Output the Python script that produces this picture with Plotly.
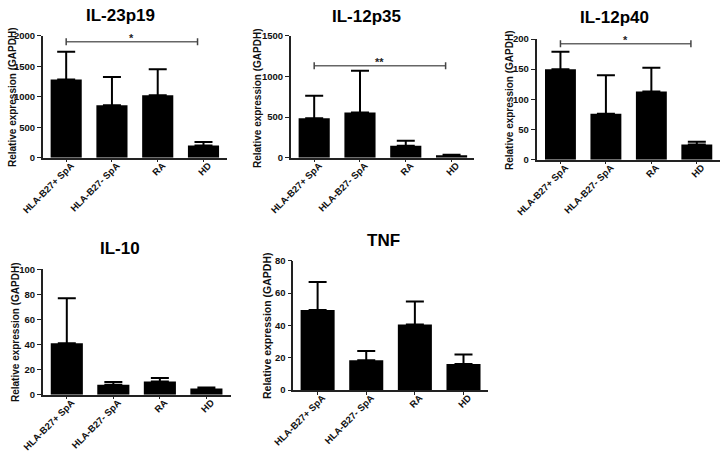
import plotly.graph_objects as go

W, H = 724, 458

groups = ["HLA-B27+ SpA", "HLA-B27- SpA", "RA", "HD"]

# mean values and top of upper error bar (mean + SD/SEM)
il23p19_mean = [1284, 858, 1022, 202]
il23p19_top = [1738, 1322, 1448, 257]
il12p35_mean = [484, 557, 148, 29]
il12p35_top = [762, 1070, 209, 37]
il12p40_mean = [150, 76, 113, 25]
il12p40_top = [179, 140, 152.5, 29.8]
il10_mean = [41, 8.0, 10.6, 4.9]
il10_top = [76.9, 10.1, 13.3, 5.7]
tnf_mean = [49.5, 18.4, 40.6, 16.1]
tnf_top = [66.8, 24.1, 54.8, 21.9]

titles = ["IL-23p19", "IL-12p35", "IL-12p40", "IL-10", "TNF"]
y_max = [2000, 1500, 200, 100, 80]
y_step = [500, 500, 50, 20, 20]

# significance brackets: (panel index, group from, group to, y level, label)
sig_panel = [0, 1, 2]
sig_from = [0, 0, 0]
sig_to = [3, 3, 3]
sig_level = [1900, 1130, 192]
sig_label = ["*", "**", "*"]

means = [il23p19_mean, il12p35_mean, il12p40_mean, il10_mean, tnf_mean]
tops = [il23p19_top, il12p35_top, il12p40_top, il10_top, tnf_top]

# layout in pixels: (axis left, axis right, axis top, axis bottom)
px_box = [
    (42.7, 226.7, 35.7, 157.7),
    (290.7, 474.0, 35.7, 157.7),
    (536.5, 720.0, 39.0, 159.7),
    (42.7, 230.6, 269.3, 394.7),
    (293.3, 488.3, 260.7, 390.0),
]
x_ranges = [(-0.513, 3.507), (-0.513, 3.49), (-0.527, 3.51), (-0.518, 3.52), (-0.50, 3.51)]
bar_w = [0.68, 0.68, 0.68, 0.69, 0.70]
title_pos = [(120.5, 15), (367, 16.5), (614, 17.5), (120, 248), (383, 240)]
ylab_pos = [(12, 97, 10), (258, 98, 10), (509, 100, 10), (15, 332, 10), (267, 326, 10.5)]
bracket_inset = 0.13

FONT = "Arial, Liberation Sans, sans-serif"

fig = go.Figure()
layout = dict(
    width=W, height=H, margin=dict(l=0, r=0, t=0, b=0, autoexpand=False),
    paper_bgcolor="white", plot_bgcolor="white", showlegend=False,
    font=dict(family=FONT, color="#111"),
)
annotations = []
shapes = []

for i in range(5):
    xn = "x" if i == 0 else f"x{i+1}"
    yn = "y" if i == 0 else f"y{i+1}"
    xl = "xaxis" if i == 0 else f"xaxis{i+1}"
    yl = "yaxis" if i == 0 else f"yaxis{i+1}"
    m = means[i]
    t = tops[i]
    fig.add_trace(go.Bar(
        x=list(range(4)), y=m, width=bar_w[i],
        marker=dict(color="black", line=dict(width=0)),
        error_y=dict(type="data", symmetric=False,
                     array=[a - b for a, b in zip(t, m)],
                     arrayminus=[0] * 4, color="black", thickness=2, width=9),
        xaxis=xn, yaxis=yn,
    ))
    L, R, T, B = px_box[i]
    layout[xl] = dict(
        domain=[L / W, R / W], range=list(x_ranges[i]), anchor=yn,
        tickmode="array", tickvals=list(range(4)), ticktext=groups,
        tickangle=-45, showline=True, linecolor="#222", linewidth=1.5,
        ticks="outside", ticklen=3, tickwidth=1, tickcolor="#222",
        showgrid=False, zeroline=False, automargin=False,
        ticklabelstandoff=-6, ticklabelshift=5,
        tickfont=dict(family=FONT, size=9.5, color="#111", weight="bold"),
    )
    layout[yl] = dict(
        domain=[1 - B / H, 1 - T / H], range=[0, y_max[i]], anchor=xn,
        dtick=y_step[i], tick0=0, showline=True, linecolor="#222", linewidth=1.5,
        ticks="outside", ticklen=4, tickwidth=1.2, tickcolor="#222",
        showgrid=False, zeroline=False, automargin=False,
        tickfont=dict(family=FONT, size=9.5, color="#111", weight="bold"),
    )
    tx, ty = title_pos[i]
    annotations.append(dict(
        text=titles[i], xref="paper", yref="paper", x=tx / W, y=1 - ty / H,
        xanchor="center", yanchor="middle", showarrow=False,
        font=dict(family=FONT, size=17, color="black", weight="bold"),
    ))
    lx, ly, ls = ylab_pos[i]
    annotations.append(dict(
        text="Relative expression (GAPDH)", xref="paper", yref="paper",
        x=lx / W, y=1 - ly / H, xanchor="center", yanchor="middle",
        textangle=-90, showarrow=False,
        font=dict(family=FONT, size=ls, color="#111", weight="bold"),
    ))

for k in range(len(sig_panel)):
    i = sig_panel[k]
    xn = "x" if i == 0 else f"x{i+1}"
    yn = "y" if i == 0 else f"y{i+1}"
    x0 = sig_from[k]
    x1 = sig_to[k] - bracket_inset
    yv = sig_level[k]
    shapes.append(dict(type="line", xref=xn, yref=yn, x0=x0, x1=x1, y0=yv, y1=yv,
                       line=dict(color="#666", width=1.5)))
    for xe in (x0, x1):
        shapes.append(dict(type="line", xref=xn, yref=yn, x0=xe, x1=xe,
                           ysizemode="pixel", yanchor=yv, y0=-3.5, y1=3.5,
                           line=dict(color="#444", width=1.5)))
    annotations.append(dict(
        text=sig_label[k], xref=xn, yref=yn, x=(x0 + x1) / 2, y=yv,
        xanchor="center", yanchor="bottom", yshift=-4, showarrow=False,
        font=dict(family=FONT, size=11, color="#222", weight="bold"),
    ))

layout["annotations"] = annotations
layout["shapes"] = shapes
fig.update_layout(**layout)
fig.write_html("out.html", config={"displayModeBar": False},
               post_script="document.body.style.margin='0';")
